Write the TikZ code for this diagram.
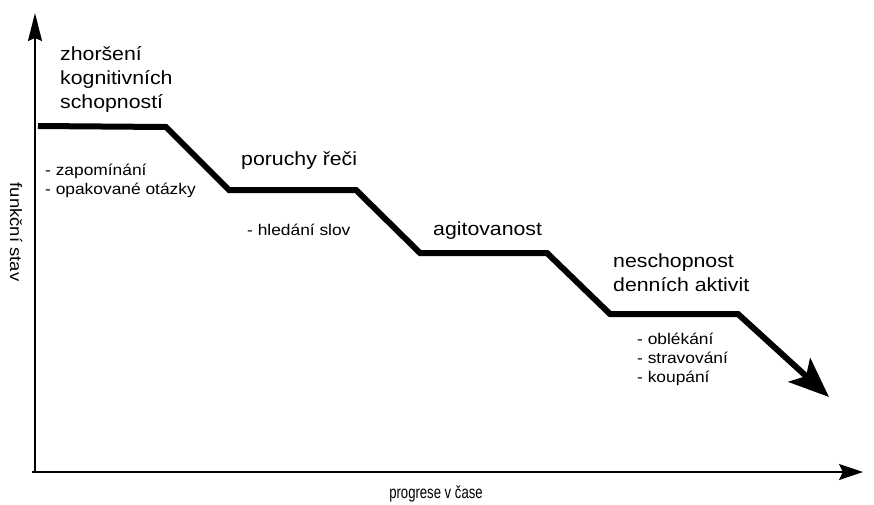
\documentclass[tikz,border=0pt]{standalone}
\usepackage{fontspec}
\setmainfont{Liberation Sans}[FakeStretch=1.12]
\newfontfamily\xlabfont{Liberation Sans}[FakeStretch=0.75]
\usetikzlibrary{arrows.meta}
\begin{document}
\begin{tikzpicture}[x=1pt,y=-1pt,
  big/.style={anchor=base west,inner sep=0pt,font=\fontsize{19}{24}\selectfont},
  small/.style={anchor=base west,inner sep=0pt,font=\fontsize{15.5}{19}\selectfont},
  axis/.style={line width=1.6pt},
  stage/.style={line width=6pt,miter limit=10}]
\useasboundingbox (0,0) rectangle (874,504);
% axes
\coordinate (o) at (35,472);
\coordinate (ytop) at (35,13);
\coordinate (xl) at (32,472);
\coordinate (xr) at (863,472);
\draw[axis,-{Stealth[length=28pt,width=14pt,inset=3pt]}] (o) -- (ytop);
\draw[axis,line width=2pt,-{Stealth[length=24pt,width=16pt,inset=4pt]}] (xl) -- (xr);
\node[anchor=center,inner sep=0pt,rotate=-90,font=\fontsize{16.5}{20}\selectfont] (ylab) at (16,232) {funkční stav};
\node[anchor=base,inner sep=0pt,font=\xlabfont\fontsize{17.5}{20}\selectfont] (xlab) at (436,498) {progrese v čase};
% stage line
\coordinate (p0) at (38,126);
\coordinate (p1) at (166,127);
\coordinate (p2) at (229,190);
\coordinate (p3) at (356,190);
\coordinate (p4) at (420,253);
\coordinate (p5) at (547,253);
\coordinate (p6) at (610,314);
\coordinate (p7) at (738,314);
\coordinate (p8) at (829,397);
\draw[stage,-{Stealth[length=40pt,width=32pt,inset=9pt]}] (p0) -- (p1) -- (p2) -- (p3) -- (p4) -- (p5) -- (p6) -- (p7) -- (p8);
% labels
\node[big] (t1a) at (60,60) {zhoršení};
\node[big] (t1b) at (60,84) {kognitivních};
\node[big] (t1c) at (60,108) {schopností};
\node[small] (s1a) at (45,175) {- zapomínání};
\node[small] (s1b) at (45,194) {- opakované otázky};
\node[big] (t2) at (241,165) {poruchy řeči};
\node[small] (s2) at (247,235) {- hledání slov};
\node[big] (t3) at (433,235) {agitovanost};
\node[big] (t4a) at (613,267) {neschopnost};
\node[big] (t4b) at (613,291) {denních aktivit};
\node[small] (s4a) at (637,344) {- oblékání};
\node[small] (s4b) at (637,363) {- stravování};
\node[small] (s4c) at (637,382) {- koupání};
\end{tikzpicture}
\end{document}
